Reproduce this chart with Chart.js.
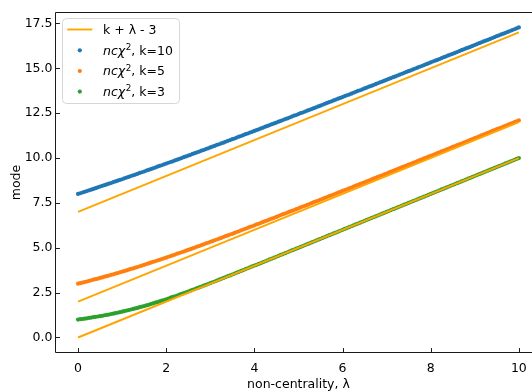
<!DOCTYPE html>
<html>
<head>
<meta charset="utf-8">
<title>Mode of the non-central chi-square distribution</title>
<script src="https://cdn.jsdelivr.net/npm/chart.js@4.4.1/dist/chart.umd.min.js"></script>
<style>
  html, body { margin: 0; padding: 0; background: #fff; overflow: hidden; }
  canvas { display: block; }
</style>
</head>
<body>
<canvas id="chart" width="543" height="392"></canvas>
<script>
// Non-centrality parameter grid
const lambdaGrid = [
  0, 0.05, 0.1, 0.15, 0.2, 0.25, 0.3, 0.35, 0.4, 0.45, 0.5, 0.55, 0.6, 0.65, 0.7, 0.75, 0.8, 0.85, 0.9, 0.95,
  1, 1.05, 1.1, 1.15, 1.2, 1.25, 1.3, 1.35, 1.4, 1.45, 1.5, 1.55, 1.6, 1.65, 1.7, 1.75, 1.8, 1.85, 1.9, 1.95,
  2, 2.05, 2.1, 2.15, 2.2, 2.25, 2.3, 2.35, 2.4, 2.45, 2.5, 2.55, 2.6, 2.65, 2.7, 2.75, 2.8, 2.85, 2.9, 2.95,
  3, 3.05, 3.1, 3.15, 3.2, 3.25, 3.3, 3.35, 3.4, 3.45, 3.5, 3.55, 3.6, 3.65, 3.7, 3.75, 3.8, 3.85, 3.9, 3.95,
  4, 4.05, 4.1, 4.15, 4.2, 4.25, 4.3, 4.35, 4.4, 4.45, 4.5, 4.55, 4.6, 4.65, 4.7, 4.75, 4.8, 4.85, 4.9, 4.95,
  5, 5.05, 5.1, 5.15, 5.2, 5.25, 5.3, 5.35, 5.4, 5.45, 5.5, 5.55, 5.6, 5.65, 5.7, 5.75, 5.8, 5.85, 5.9, 5.95,
  6, 6.05, 6.1, 6.15, 6.2, 6.25, 6.3, 6.35, 6.4, 6.45, 6.5, 6.55, 6.6, 6.65, 6.7, 6.75, 6.8, 6.85, 6.9, 6.95,
  7, 7.05, 7.1, 7.15, 7.2, 7.25, 7.3, 7.35, 7.4, 7.45, 7.5, 7.55, 7.6, 7.65, 7.7, 7.75, 7.8, 7.85, 7.9, 7.95,
  8, 8.05, 8.1, 8.15, 8.2, 8.25, 8.3, 8.35, 8.4, 8.45, 8.5, 8.55, 8.6, 8.65, 8.7, 8.75, 8.8, 8.85, 8.9, 8.95,
  9, 9.05, 9.1, 9.15, 9.2, 9.25, 9.3, 9.35, 9.4, 9.45, 9.5, 9.55, 9.6, 9.65, 9.7, 9.75, 9.8, 9.85, 9.9, 9.95,
  10
];

// Mode of the non-central chi-square, k = 10
const modeK10 = [
  8.00, 8.04, 8.08, 8.12, 8.16, 8.20, 8.24, 8.28, 8.32, 8.37, 8.41, 8.45, 8.49, 8.53, 8.57, 8.61, 8.66, 8.70, 8.74, 8.78,
  8.82, 8.87, 8.91, 8.95, 9.00, 9.04, 9.08, 9.12, 9.17, 9.21, 9.25, 9.30, 9.34, 9.38, 9.43, 9.47, 9.52, 9.56, 9.60, 9.65,
  9.69, 9.74, 9.78, 9.82, 9.87, 9.91, 9.96, 10.00, 10.05, 10.09, 10.14, 10.18, 10.23, 10.27, 10.32, 10.36, 10.41, 10.45, 10.50, 10.54,
  10.59, 10.64, 10.68, 10.73, 10.77, 10.82, 10.86, 10.91, 10.96, 11.00, 11.05, 11.09, 11.14, 11.19, 11.23, 11.28, 11.33, 11.37, 11.42, 11.46,
  11.51, 11.56, 11.60, 11.65, 11.70, 11.75, 11.79, 11.84, 11.89, 11.93, 11.98, 12.03, 12.07, 12.12, 12.17, 12.21, 12.26, 12.31, 12.36, 12.40,
  12.45, 12.50, 12.54, 12.59, 12.64, 12.69, 12.73, 12.78, 12.83, 12.88, 12.92, 12.97, 13.02, 13.07, 13.12, 13.16, 13.21, 13.26, 13.31, 13.35,
  13.40, 13.45, 13.50, 13.54, 13.59, 13.64, 13.69, 13.74, 13.78, 13.83, 13.88, 13.93, 13.98, 14.02, 14.07, 14.12, 14.17, 14.22, 14.26, 14.31,
  14.36, 14.41, 14.46, 14.51, 14.55, 14.60, 14.65, 14.70, 14.75, 14.80, 14.84, 14.89, 14.94, 14.99, 15.04, 15.09, 15.13, 15.18, 15.23, 15.28,
  15.33, 15.38, 15.43, 15.47, 15.52, 15.57, 15.62, 15.67, 15.72, 15.77, 15.81, 15.86, 15.91, 15.96, 16.01, 16.06, 16.11, 16.15, 16.20, 16.25,
  16.30, 16.35, 16.40, 16.45, 16.50, 16.54, 16.59, 16.64, 16.69, 16.74, 16.79, 16.84, 16.89, 16.93, 16.98, 17.03, 17.08, 17.13, 17.18, 17.23,
  17.28
];

// Mode of the non-central chi-square, k = 5
const modeK5 = [
  3.00, 3.03, 3.06, 3.09, 3.12, 3.15, 3.19, 3.22, 3.25, 3.28, 3.32, 3.35, 3.39, 3.42, 3.45, 3.49, 3.52, 3.56, 3.59, 3.63,
  3.67, 3.70, 3.74, 3.78, 3.82, 3.85, 3.89, 3.93, 3.97, 4.01, 4.05, 4.09, 4.13, 4.17, 4.21, 4.25, 4.29, 4.33, 4.37, 4.41,
  4.45, 4.50, 4.54, 4.58, 4.62, 4.67, 4.71, 4.75, 4.79, 4.84, 4.88, 4.92, 4.97, 5.01, 5.06, 5.10, 5.15, 5.19, 5.24, 5.28,
  5.33, 5.37, 5.42, 5.46, 5.51, 5.55, 5.60, 5.65, 5.69, 5.74, 5.78, 5.83, 5.88, 5.92, 5.97, 6.02, 6.06, 6.11, 6.16, 6.20,
  6.25, 6.30, 6.34, 6.39, 6.44, 6.49, 6.53, 6.58, 6.63, 6.67, 6.72, 6.77, 6.82, 6.87, 6.91, 6.96, 7.01, 7.06, 7.10, 7.15,
  7.20, 7.25, 7.30, 7.34, 7.39, 7.44, 7.49, 7.54, 7.59, 7.63, 7.68, 7.73, 7.78, 7.83, 7.88, 7.92, 7.97, 8.02, 8.07, 8.12,
  8.17, 8.22, 8.26, 8.31, 8.36, 8.41, 8.46, 8.51, 8.56, 8.61, 8.65, 8.70, 8.75, 8.80, 8.85, 8.90, 8.95, 9.00, 9.04, 9.09,
  9.14, 9.19, 9.24, 9.29, 9.34, 9.39, 9.44, 9.49, 9.54, 9.58, 9.63, 9.68, 9.73, 9.78, 9.83, 9.88, 9.93, 9.98, 10.03, 10.08,
  10.12, 10.17, 10.22, 10.27, 10.32, 10.37, 10.42, 10.47, 10.52, 10.57, 10.62, 10.67, 10.72, 10.77, 10.81, 10.86, 10.91, 10.96, 11.01, 11.06,
  11.11, 11.16, 11.21, 11.26, 11.31, 11.36, 11.41, 11.46, 11.51, 11.56, 11.61, 11.65, 11.70, 11.75, 11.80, 11.85, 11.90, 11.95, 12.00, 12.05,
  12.10
];

// Mode of the non-central chi-square, k = 3
const modeK3 = [
  1.00, 1.02, 1.03, 1.05, 1.07, 1.09, 1.11, 1.13, 1.15, 1.17, 1.19, 1.21, 1.24, 1.26, 1.28, 1.31, 1.33, 1.36, 1.38, 1.41,
  1.44, 1.47, 1.50, 1.53, 1.56, 1.59, 1.62, 1.65, 1.69, 1.72, 1.75, 1.79, 1.82, 1.86, 1.90, 1.94, 1.97, 2.01, 2.05, 2.09,
  2.13, 2.17, 2.22, 2.26, 2.30, 2.34, 2.39, 2.43, 2.47, 2.52, 2.56, 2.61, 2.66, 2.70, 2.75, 2.79, 2.84, 2.89, 2.93, 2.98,
  3.03, 3.08, 3.12, 3.17, 3.22, 3.27, 3.32, 3.37, 3.42, 3.46, 3.51, 3.56, 3.61, 3.66, 3.71, 3.76, 3.81, 3.86, 3.91, 3.96,
  4.01, 4.05, 4.10, 4.15, 4.20, 4.25, 4.30, 4.35, 4.40, 4.45, 4.50, 4.55, 4.60, 4.65, 4.70, 4.75, 4.80, 4.85, 4.90, 4.95,
  5.00, 5.05, 5.10, 5.15, 5.20, 5.25, 5.30, 5.35, 5.40, 5.45, 5.50, 5.55, 5.60, 5.65, 5.70, 5.75, 5.80, 5.85, 5.90, 5.95,
  6.00, 6.05, 6.10, 6.15, 6.20, 6.25, 6.30, 6.35, 6.40, 6.45, 6.50, 6.55, 6.60, 6.65, 6.70, 6.75, 6.80, 6.85, 6.90, 6.95,
  7.00, 7.05, 7.10, 7.15, 7.20, 7.25, 7.30, 7.35, 7.40, 7.45, 7.50, 7.55, 7.60, 7.65, 7.70, 7.75, 7.80, 7.85, 7.90, 7.95,
  8.00, 8.05, 8.10, 8.15, 8.20, 8.25, 8.30, 8.35, 8.40, 8.45, 8.50, 8.55, 8.60, 8.65, 8.70, 8.75, 8.80, 8.85, 8.90, 8.95,
  9.00, 9.05, 9.10, 9.15, 9.20, 9.25, 9.30, 9.35, 9.40, 9.45, 9.50, 9.55, 9.60, 9.65, 9.70, 9.75, 9.80, 9.85, 9.90, 9.95,
  10.00
];

// Reference lines k + λ - 3 (end points at λ = 0 and λ = 10)
const lineLambda = [0, 10];
const lineK10 = [7, 17];
const lineK5 = [2, 12];
const lineK3 = [0, 10];

// Axis ticks
const xTicks = [0, 2, 4, 6, 8, 10];
const yTicks = [0, 2.5, 5, 7.5, 10, 12.5, 15, 17.5];

const FONT = '"DejaVu Sans", "Liberation Sans", sans-serif';
const FS = 12.5;

const pts = (xs, ys) => xs.map((x, i) => ({ x: x, y: ys[i] }));

const lineStyle = {
  type: 'line', showLine: true, borderColor: '#FFA500', borderWidth: 1.9,
  pointRadius: 0, fill: false, order: 0, tension: 0
};
const dotStyle = (c) => ({
  type: 'scatter', showLine: false, backgroundColor: c, borderWidth: 0,
  pointRadius: 2.1, pointHoverRadius: 2.1, order: 1
});

const datasets = [
  Object.assign({ label: 'k + λ - 3', data: pts(lineLambda, lineK10) }, lineStyle),
  Object.assign({ label: '', data: pts(lineLambda, lineK5) }, lineStyle),
  Object.assign({ label: '', data: pts(lineLambda, lineK3) }, lineStyle),
  Object.assign({ label: 'ncχ2, k=10', data: pts(lambdaGrid, modeK10) }, dotStyle('#1f77b4')),
  Object.assign({ label: 'ncχ2, k=5', data: pts(lambdaGrid, modeK5) }, dotStyle('#ff7f0e')),
  Object.assign({ label: 'ncχ2, k=3', data: pts(lambdaGrid, modeK3) }, dotStyle('#2ca02c'))
];

// Legend entries: handle type, colour, and rich-text pieces (italic math, superscript)
const legendEntries = [
  { kind: 'line', color: '#FFA500', parts: [['k + λ - 3', '']] },
  { kind: 'dot', color: '#1f77b4', parts: [['ncχ', 'i'], ['2', 'sup'], [', k=10', '']] },
  { kind: 'dot', color: '#ff7f0e', parts: [['ncχ', 'i'], ['2', 'sup'], [', k=5', '']] },
  { kind: 'dot', color: '#2ca02c', parts: [['ncχ', 'i'], ['2', 'sup'], [', k=3', '']] }
];

// Spines and inward tick marks
const frame = {
  id: 'frame',
  afterDatasetsDraw(chart) {
    const { ctx, chartArea: a, scales } = chart;
    ctx.save();
    ctx.strokeStyle = '#1a1a1a';
    ctx.lineWidth = 1;
    const L = Math.round(a.left) - 0.5, B = Math.round(a.bottom) - 0.5, T = Math.round(a.top) + 0.5;
    const R = Math.round(a.right) - 0.5;
    ctx.beginPath();
    ctx.moveTo(L, T); ctx.lineTo(L, B); ctx.lineTo(R, B); ctx.lineTo(R, T); ctx.closePath();
    ctx.stroke();
    const tl = 4.4;
    ctx.beginPath();
    xTicks.forEach(v => {
      const px = Math.round(scales.x.getPixelForValue(v)) + 0.5;
      ctx.moveTo(px, B); ctx.lineTo(px, B - tl);
    });
    yTicks.forEach(v => {
      const py = Math.round(scales.y.getPixelForValue(v)) + 0.5;
      ctx.moveTo(L, py); ctx.lineTo(L + tl, py);
    });
    ctx.stroke();
    ctx.restore();
  }
};

// Legend box in the upper-left corner of the plot
const legendBox = {
  id: 'legendBox',
  afterDraw(chart) {
    const ctx = chart.ctx;
    const box = { x: 62, y: 18, w: 117, h: 85, r: 4 };
    ctx.save();
    ctx.beginPath();
    ctx.roundRect(box.x + 0.5, box.y + 0.5, box.w, box.h, box.r);
    ctx.fillStyle = 'rgba(255,255,255,0.8)';
    ctx.fill();
    ctx.strokeStyle = '#d6d6d6';
    ctx.lineWidth = 1;
    ctx.stroke();

    const rowY = [29.5, 50.3, 71.0, 91.6];
    const hx0 = 67.3, hx1 = 92.3, textX = 103;
    legendEntries.forEach((e, i) => {
      const y = rowY[i];
      if (e.kind === 'line') {
        ctx.strokeStyle = e.color; ctx.lineWidth = 1.9;
        ctx.beginPath(); ctx.moveTo(hx0, y); ctx.lineTo(hx1, y); ctx.stroke();
      } else {
        ctx.fillStyle = e.color;
        ctx.beginPath(); ctx.arc((hx0 + hx1) / 2, y, 2.1, 0, Math.PI * 2); ctx.fill();
      }
      let x = textX;
      const base = y + 4.3;
      ctx.fillStyle = '#000';
      ctx.textBaseline = 'alphabetic';
      ctx.textAlign = 'left';
      e.parts.forEach(([t, s]) => {
        let yy = base;
        if (s === 'i') ctx.font = 'italic ' + FS + 'px ' + FONT;
        else if (s === 'sup') { ctx.font = (FS * 0.7) + 'px ' + FONT; yy = base - 4.6; x += 0.6; }
        else ctx.font = FS + 'px ' + FONT;
        ctx.fillText(t, x, yy);
        x += ctx.measureText(t).width;
      });
    });
    ctx.restore();
  }
};

new Chart(document.getElementById('chart'), {
  type: 'scatter',
  data: { datasets: datasets },
  options: {
    responsive: false,
    animation: false,
    devicePixelRatio: 1,
    layout: { padding: { top: 12, right: 0, bottom: 0, left: 0 } },
    plugins: { legend: { display: false }, tooltip: { enabled: false } },
    scales: {
      x: {
        type: 'linear', min: -0.5, max: 10.5,
        afterBuildTicks: s => { s.ticks = xTicks.map(v => ({ value: v })); },
        afterFit: s => { s.height = 39; },
        grid: { display: false, drawTicks: false },
        border: { display: false },
        ticks: {
          autoSkip: false, maxRotation: 0, padding: 8, color: '#000',
          font: { family: FONT, size: FS },
          callback: v => String(v)
        },
        title: {
          display: true, text: 'non-centrality, λ', color: '#000',
          font: { family: FONT, size: FS, lineHeight: 1.2 },
          padding: { top: 0, bottom: 0 }
        }
      },
      y: {
        type: 'linear', min: -0.864, max: 18.14,
        afterBuildTicks: s => { s.ticks = yTicks.map(v => ({ value: v })); },
        afterFit: s => { s.width = 56; },
        grid: { display: false, drawTicks: false },
        border: { display: false },
        ticks: {
          autoSkip: false, padding: 3.5, color: '#000',
          font: { family: FONT, size: FS },
          callback: v => Number(v).toFixed(1)
        },
        title: {
          display: true, text: 'mode', color: '#000',
          font: { family: FONT, size: FS, lineHeight: 1.2 },
          padding: { top: 9, bottom: 0 }
        }
      }
    }
  },
  plugins: [frame, legendBox]
});
</script>
</body>
</html>
